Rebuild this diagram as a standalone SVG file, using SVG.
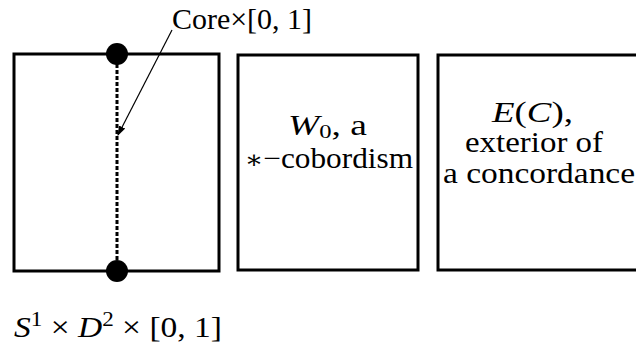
<svg xmlns="http://www.w3.org/2000/svg" width="636" height="345" viewBox="0 0 636 345">
<style>
.box{fill:none;stroke:#000;stroke-width:3}
.i{font-style:italic}
</style>
<defs>
<marker id="ah" viewBox="0 0 10 10" refX="9" refY="5" markerWidth="10" markerHeight="10" markerUnits="userSpaceOnUse" orient="auto">
<path d="M0,1.5 L10,5 L0,8.5 Z" fill="#000"/>
</marker>
</defs>
<rect width="636" height="345" fill="#fff"/>
<g font-family="'Liberation Serif', 'Times New Roman', serif" font-size="29" fill="#000">
<g id="node-solid-torus">
<rect class="box" x="14" y="54" width="205" height="217"/>
<line x1="117" y1="64" x2="117" y2="262" stroke="#000" stroke-width="3" stroke-dasharray="4,2"/>
<circle cx="117" cy="54" r="11" fill="#000"/>
<circle cx="117" cy="271" r="11" fill="#000"/>
<text x="14" y="337" textLength="208" lengthAdjust="spacingAndGlyphs"><tspan class="i">S</tspan><tspan font-size="20" dy="-11">1</tspan><tspan dy="11"> × </tspan><tspan class="i">D</tspan><tspan font-size="20" dy="-11">2</tspan><tspan dy="11"> × [0, 1]</tspan></text>
</g>
<g id="node-core-label">
<text x="172" y="29" textLength="140" lengthAdjust="spacingAndGlyphs">Core×[0, 1]</text>
</g>
<g id="node-w0">
<rect class="box" x="238" y="55" width="180" height="215"/>
<text x="288" y="135" textLength="79" lengthAdjust="spacingAndGlyphs"><tspan class="i">W</tspan><tspan font-size="19" dy="3">0</tspan><tspan dy="-3">, a</tspan></text>
<text x="245" y="168" textLength="168" lengthAdjust="spacingAndGlyphs"><tspan font-family="'DejaVu Serif', serif" font-size="25">∗</tspan>−cobordism</text>
</g>
<g id="node-ec">
<rect class="box" x="438" y="55" width="210" height="215"/>
<text x="492" y="122" textLength="81" lengthAdjust="spacingAndGlyphs"><tspan class="i">E</tspan>(<tspan class="i">C</tspan>),</text>
<text x="465" y="152" textLength="138" lengthAdjust="spacingAndGlyphs">exterior of</text>
<text x="443" y="183" textLength="192" lengthAdjust="spacingAndGlyphs">a concordance</text>
</g>
</g>
<g id="connectors">
<line x1="172" y1="30" x2="118" y2="135" stroke="#000" stroke-width="1.2" marker-end="url(#ah)"/>
</g>
</svg>
